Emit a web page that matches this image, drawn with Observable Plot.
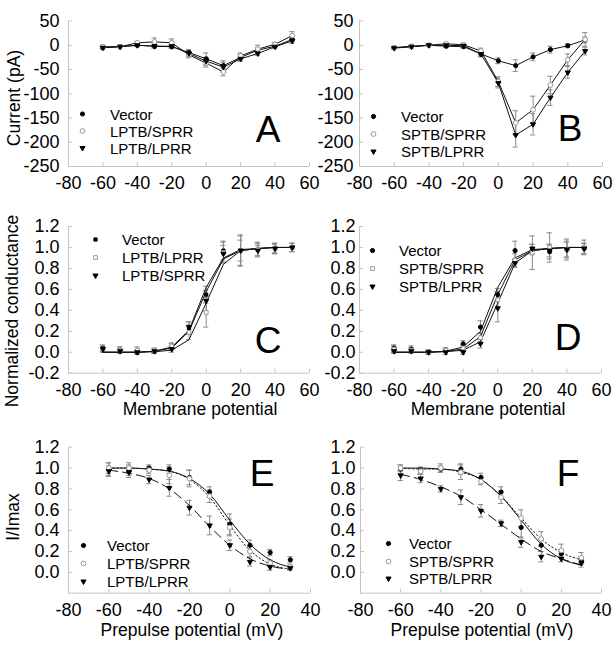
<!DOCTYPE html>
<html><head><meta charset="utf-8">
<script src="https://cdn.jsdelivr.net/npm/d3@7"></script>
<script src="https://cdn.jsdelivr.net/npm/@observablehq/plot@0.6"></script>
<style>
body{margin:0;background:#fff;}
#fig{position:relative;width:615px;height:652px;overflow:hidden;font-family:Arial,"Liberation Sans",sans-serif;color:#000;}
#fig > svg{position:absolute;}
.lab{position:absolute;font-size:17.5px;white-space:nowrap;transform:translate(-50%,-50%);line-height:1;}
.rot{transform:translate(-50%,-50%) rotate(-90deg);}
.big{position:absolute;font-size:37px;line-height:1;transform:translate(-50%,-50%);}
.leg{position:absolute;font-size:15px;line-height:1;white-space:nowrap;transform:translateY(-50%);}
</style></head><body><div id="fig"></div>
<script>
// ---------- data ----------
const ivVoltage = [-60,-50,-40,-30,-20,-10,0,10,20,30,40,50];
const inactVoltage = [-60,-50,-40,-30,-20,-10,0,10,20,30];
const xTicksIV = [-80,-60,-40,-20,0,20,40,60];
const xTicksInact = [-80,-60,-40,-20,0,20,40];
const yTicksCurrent = [-250,-200,-150,-100,-50,0,50];
const yTicksG = [-0.2,0,0.2,0.4,0.6,0.8,1.0,1.2];
const yTicksI = [0,0.2,0.4,0.6,0.8,1.0,1.2];

// Panel A (current, pA)
const aVector    = [-5,-3,0,-2,-3,-15,-28,-42,-25,-10,-2,12];
const aVectorErr = [3,2,3,4,4,6,12,10,6,5,4,5];
const aLS        = [-3,-3,5,7,5,-20,-37,-55,-22,-8,2,20];
const aLSErr     = [3,2,3,8,8,6,8,8,6,8,4,8];
const aLL        = [-5,-3,0,-2,-2,-17,-33,-45,-28,-17,-3,9];
const aLLErr     = [2,2,2,3,3,6,8,10,5,4,3,5];
// Panel B
const bVector    = [-5,-3,0,-2,-3,-18,-32,-42,-24,-9,-1,11];
const bVectorErr = [2,2,2,3,3,5,6,12,8,7,4,6];
const bSS        = [-5,-2,0,3,1,-12,-75,-160,-133,-82,-30,12];
const bSSErr     = [2,2,2,3,3,6,10,25,28,18,12,14];
const bSL        = [-6,-3,0,0,-1,-18,-78,-185,-163,-108,-56,-12];
const bSLErr     = [2,2,2,3,3,6,10,25,22,16,12,8];
// Panel C (normalized conductance)
const cVector    = [0.04,0.02,0,0.01,0.05,0.23,0.55,0.97,0.97,0.98,0.99,1.0];
const cVectorErr = [0.03,0.03,0.02,0.02,0.03,0.06,0.08,0.09,0.14,0.07,0.05,0.04];
const cVectorFit = [0,0,0,0.01,0.04,0.2,0.58,0.89,0.97,0.99,1,1];
const cLL        = [0.03,0.02,0.02,0.02,0.06,0.19,0.38,0.95,0.97,0.98,0.99,1.0];
const cLLErr     = [0.03,0.03,0.03,0.02,0.03,0.07,0.14,0.1,0.15,0.06,0.05,0.04];
const cLLFit     = [0,0,0,0.005,0.02,0.12,0.47,0.84,0.97,0.99,1,1];
const cLS        = [0.03,0.01,0,0.01,0.03,0.24,0.49,0.94,0.97,0.97,0.99,1.0];
const cLSErr     = [0.02,0.02,0.02,0.02,0.03,0.05,0.1,0.08,0.1,0.05,0.04,0.04];
const cLSFit     = [0,0,0,0.01,0.05,0.21,0.62,0.9,0.98,0.99,1,1];
// Panel D
const dVector    = [0.04,0.03,0,0.02,0.08,0.24,0.55,0.97,0.98,0.96,0.98,0.99];
const dVectorErr = [0.03,0.03,0.02,0.02,0.03,0.06,0.06,0.09,0.05,0.07,0.08,0.05];
const dVectorFit = [0,0,0,0.01,0.05,0.2,0.62,0.9,0.98,0.99,1,1];
const dSS        = [0.03,0.02,0,0.02,0.04,0.14,0.5,0.88,0.95,1.0,0.98,1.0];
const dSSErr     = [0.03,0.02,0.02,0.02,0.03,0.04,0.08,0.06,0.16,0.14,0.1,0.07];
const dSSFit     = [0,0,0,0.01,0.03,0.15,0.55,0.88,0.97,0.99,1,1];
const dSL        = [0.01,0.01,0,0,0,0.08,0.42,0.85,0.99,0.97,0.98,0.99];
const dSLErr     = [0.02,0.02,0.02,0.02,0.02,0.04,0.13,0.04,0.04,0.06,0.07,0.05];
const dSLFit     = [0,0,0,0.005,0.02,0.1,0.47,0.85,0.97,0.99,1,1];
// Panel E (I/Imax)
const eVector    = [0.99,0.98,1.0,0.99,0.91,0.77,0.46,0.26,0.19,0.12];
const eVectorErr = [0.06,0.05,0.03,0.04,0.07,0.05,0.1,0.05,0.03,0.03];
const eVectorFit = [1.0,1.0,0.99,0.97,0.9,0.75,0.5,0.27,0.12,0.05];
const eLS        = [1.0,1.0,0.98,0.93,0.9,0.73,0.43,0.2,0.09,0.05];
const eLSErr     = [0.05,0.05,0.03,0.08,0.08,0.06,0.08,0.05,0.03,0.02];
const eLSFit     = [1.0,1.0,0.99,0.97,0.89,0.72,0.45,0.21,0.08,0.03];
const eLL        = [0.97,0.96,0.89,0.81,0.62,0.45,0.26,0.1,0.05,0.04];
const eLLErr     = [0.05,0.05,0.04,0.08,0.07,0.09,0.05,0.04,0.03,0.02];
const eLLFit     = [0.98,0.95,0.9,0.8,0.64,0.44,0.26,0.13,0.06,0.03];
// Panel F
const fVector    = [0.99,0.98,0.99,0.99,0.91,0.77,0.43,0.26,0.18,0.11];
const fVectorErr = [0.04,0.03,0.03,0.05,0.04,0.05,0.1,0.06,0.04,0.04];
const fVectorFit = [1.0,1.0,0.99,0.97,0.89,0.73,0.5,0.27,0.13,0.07];
const fSS        = [1.0,0.97,1.0,0.96,0.87,0.72,0.52,0.32,0.21,0.14];
const fSSErr     = [0.03,0.03,0.04,0.07,0.03,0.06,0.08,0.07,0.06,0.05];
const fSSFit     = [1.0,0.99,0.99,0.96,0.89,0.73,0.52,0.32,0.19,0.12];
const fSL        = [0.93,0.9,0.8,0.72,0.59,0.47,0.29,0.15,0.13,0.09];
const fSLErr     = [0.05,0.04,0.03,0.07,0.06,0.03,0.05,0.05,0.03,0.04];
const fSLFit     = [0.94,0.89,0.82,0.73,0.6,0.46,0.32,0.2,0.13,0.07];

// ---------- styles ----------
const axisGray = "#c4c4c4";
const errGray = "#8a8a8a";
const openGray = "#9a9a9a";
const FONT = "Arial, 'Liberation Sans', sans-serif";
const fig = document.getElementById("fig");

const filledCircle = {symbol: "circle", fill: "#000", stroke: "#000", r: 2.1};
const openCircle = {symbol: "circle", fill: "#fff", stroke: openGray, r: 2.4};
const downTri = {symbol: "triangle", fill: "#000", stroke: "#000", r: 1.9, rotate: 180};
const filledSquare = {symbol: "square", fill: "#000", stroke: "#000", r: 1.8};
const openSquare = {symbol: "square", fill: "#fff", stroke: openGray, r: 2.1};

function addDiv(cls, text, x, y) {
  const d = document.createElement("div");
  d.className = cls;
  d.textContent = text;
  d.style.left = x + "px";
  d.style.top = y + "px";
  fig.appendChild(d);
}

function panel(cfg) {
  const [sl, st, sw, sh] = cfg.box;
  const [fl, ft, fr, fb] = cfg.frame;
  const xd = cfg.xDomain, yd = cfg.yDomain;
  const ux = (xd[1]-xd[0])/(fr-fl);   // data units per px
  const uy = (yd[1]-yd[0])/(fb-ft);
  const cap = 2.6*ux;
  const marks = [
    Plot.ruleY([yd[0]], {stroke: axisGray}),
    Plot.ruleX([xd[0]], {stroke: axisGray}),
    Plot.ruleX(cfg.xTicks, {x: d => d, y1: yd[0], y2: yd[0] + 4*uy, stroke: axisGray}),
    Plot.ruleY(cfg.yTicks, {y: d => d, x1: xd[0], x2: xd[0] + 4*ux, stroke: axisGray}),
    Plot.axisX(cfg.xTicks, {tickSize: 0, tickPadding: cfg.xPad ?? 10, fontSize: 18, label: null, tickFormat: d => String(d)}),
    Plot.axisY(cfg.yTicks, {tickSize: 0, tickPadding: cfg.yPad ?? 9, fontSize: 18, label: null, tickFormat: cfg.yFormat})
  ];
  const xs = cfg.xs;
  const idx = d3.range(xs.length);
  for (const s of cfg.series) {
    const y = s.y, e = s.err;
    marks.push(Plot.ruleX(idx, {x: i => xs[i], y1: i => y[i]-e[i], y2: i => y[i]+e[i], stroke: errGray, strokeWidth: 1}));
    marks.push(Plot.ruleY(idx, {y: i => y[i]+e[i], x1: i => xs[i]-cap, x2: i => xs[i]+cap, stroke: errGray, strokeWidth: 1}));
    marks.push(Plot.ruleY(idx, {y: i => y[i]-e[i], x1: i => xs[i]-cap, x2: i => xs[i]+cap, stroke: errGray, strokeWidth: 1}));
  }
  for (const s of cfg.series) {
    const ly = s.fit || s.y;
    marks.push(Plot.line(idx, {x: i => xs[i], y: i => ly[i], stroke: "#111", strokeWidth: 1,
      strokeDasharray: s.dash, curve: cfg.curve || "linear"}));
  }
  for (const s of cfg.series) {
    const y = s.y;
    marks.push(Plot.dot(idx, {x: i => xs[i], y: i => y[i], ...s.sym, strokeWidth: 1}));
  }
  const lg = cfg.legend;
  cfg.series.forEach((s, k) => {
    marks.push(Plot.dot([0], {frameAnchor: "top-left", dx: lg.mx - fl, dy: lg.rows[k] - ft, ...s.sym, strokeWidth: 1}));
  });
  const svg = Plot.plot({
    width: sw, height: sh,
    marginLeft: fl - sl, marginRight: sl + sw - fr, marginTop: ft - st, marginBottom: st + sh - fb,
    x: {domain: xd}, y: {domain: yd},
    style: {background: "transparent", overflow: "visible", fontFamily: FONT, color: "#000"},
    marks
  });
  svg.style.left = sl + "px";
  svg.style.top = st + "px";
  fig.appendChild(svg);
  cfg.series.forEach((s, k) => addDiv("leg", s.name, lg.tx, lg.rows[k]));
  addDiv("big", cfg.letter[0], cfg.letter[1], cfg.letter[2]);
}

const f1 = d => d.toFixed(1);
const fi = d => String(d);

panel({box: [0, 0, 315, 200], frame: [68, 20.5, 309, 166], xDomain: [-80, 60], yDomain: [-250, 50],
  xTicks: xTicksIV, yTicks: yTicksCurrent, yFormat: fi, xs: ivVoltage,
  series: [
    {name: "Vector", y: aVector, err: aVectorErr, sym: filledCircle},
    {name: "LPTB/SPRR", y: aLS, err: aLSErr, sym: openCircle},
    {name: "LPTB/LPRR", y: aLL, err: aLLErr, sym: downTri}
  ],
  legend: {mx: 82, tx: 110, rows: [113.5, 130.5, 147.5]}, letter: ["A", 268, 129]});

panel({box: [300, 0, 315, 200], frame: [359, 20.5, 602, 166], xDomain: [-80, 60], yDomain: [-250, 50],
  xTicks: xTicksIV, yTicks: yTicksCurrent, yFormat: fi, xs: ivVoltage, yPad: 6,
  series: [
    {name: "Vector", y: bVector, err: bVectorErr, sym: filledCircle},
    {name: "SPTB/SPRR", y: bSS, err: bSSErr, sym: openCircle},
    {name: "SPTB/LPRR", y: bSL, err: bSLErr, sym: downTri}
  ],
  legend: {mx: 373, tx: 401, rows: [116, 133.5, 151]}, letter: ["B", 570, 128]});

panel({box: [0, 190, 315, 230], frame: [68, 226, 309, 372.7], xDomain: [-80, 60], yDomain: [-0.2, 1.2],
  xTicks: xTicksIV, yTicks: yTicksG, yFormat: f1, xs: ivVoltage,
  series: [
    {name: "Vector", y: cVector, err: cVectorErr, fit: cVectorFit, sym: filledSquare},
    {name: "LPTB/LPRR", y: cLL, err: cLLErr, fit: cLLFit, sym: openSquare},
    {name: "LPTB/SPRR", y: cLS, err: cLSErr, fit: cLSFit, sym: downTri}
  ],
  legend: {mx: 95, tx: 122, rows: [239, 257, 275]}, letter: ["C", 268, 340]});

panel({box: [300, 190, 315, 230], frame: [359, 226, 601, 372.7], xDomain: [-80, 60], yDomain: [-0.2, 1.2],
  xTicks: xTicksIV, yTicks: yTicksG, yFormat: f1, xs: ivVoltage, yPad: 4,
  series: [
    {name: "Vector", y: dVector, err: dVectorErr, fit: dVectorFit, sym: filledCircle},
    {name: "SPTB/SPRR", y: dSS, err: dSSErr, fit: dSSFit, sym: openSquare},
    {name: "SPTB/LPRR", y: dSL, err: dSLErr, fit: dSLFit, sym: downTri}
  ],
  legend: {mx: 372, tx: 399, rows: [250, 268, 286]}, letter: ["D", 568, 337]});

panel({box: [0, 420, 315, 232], frame: [68, 446.7, 310, 592.7], xDomain: [-80, 40], yDomain: [-0.2, 1.2],
  xTicks: xTicksInact, yTicks: yTicksI, yFormat: f1, xs: inactVoltage, curve: "monotone-x",
  series: [
    {name: "Vector", y: eVector, err: eVectorErr, fit: eVectorFit, sym: filledCircle},
    {name: "LPTB/SPRR", y: eLS, err: eLSErr, fit: eLSFit, sym: openCircle, dash: "1.5,2.5"},
    {name: "LPTB/LPRR", y: eLL, err: eLLErr, fit: eLLFit, sym: downTri, dash: "9,5"}
  ],
  legend: {mx: 83, tx: 107, rows: [545, 563, 581]}, letter: ["E", 262, 473]});

panel({box: [300, 420, 315, 232], frame: [360, 446.7, 601, 592.7], xDomain: [-80, 40], yDomain: [-0.2, 1.2],
  xTicks: xTicksInact, yTicks: yTicksI, yFormat: f1, xs: inactVoltage, curve: "monotone-x", yPad: 5,
  series: [
    {name: "Vector", y: fVector, err: fVectorErr, fit: fVectorFit, sym: filledCircle},
    {name: "SPTB/SPRR", y: fSS, err: fSSErr, fit: fSSFit, sym: openCircle, dash: "1.5,2.5"},
    {name: "SPTB/LPRR", y: fSL, err: fSLErr, fit: fSLFit, sym: downTri, dash: "9,5"}
  ],
  legend: {mx: 388, tx: 409, rows: [543, 561, 578]}, letter: ["F", 568, 473]});

// axis titles
const titles = [
  ["Current (pA)", 15, 98, true],
  ["Normalized conductance", 13, 311, true],
  ["I/Imax", 14, 517, true],
  ["Membrane potential", 200, 410, false],
  ["Membrane potential", 488, 410, false],
  ["Prepulse potential (mV)", 192, 631, false],
  ["Prepulse potential (mV)", 482, 631, false]
];
for (const [t, x, y, r] of titles) addDiv("lab" + (r ? " rot" : ""), t, x, y);
</script>
</body></html>
